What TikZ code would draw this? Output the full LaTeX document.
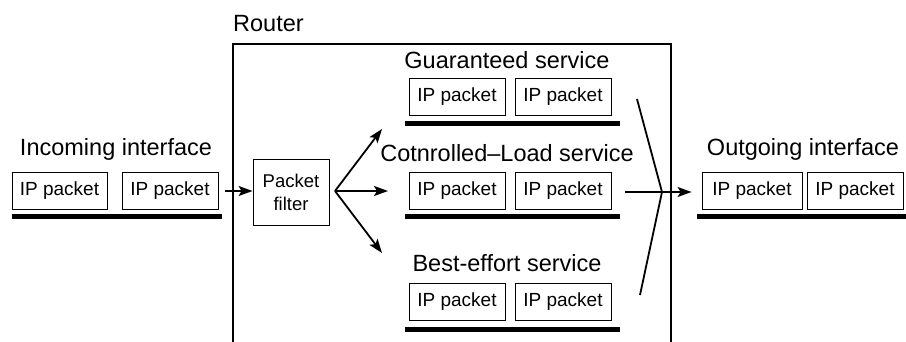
\documentclass[tikz,border=0pt]{standalone}
\usepackage{fontspec}
\setmainfont{Liberation Sans}
\usetikzlibrary{arrows.meta}
\begin{document}
\begin{tikzpicture}[x=1pt,y=-1pt,
  pkt/.style={draw, line width=0.8pt, minimum width=96pt, minimum height=37pt, inner sep=0pt,
    font=\fontsize{19}{19}\selectfont},
  head/.style={anchor=base, inner sep=0pt, font=\fontsize{23.5}{23.5}\selectfont},
  bar/.style={line width=5pt},
  arr/.style={line width=1.8pt, -{Stealth[length=14pt,width=10pt,inset=3pt]}},
  plain/.style={line width=1.8pt}
]
\useasboundingbox (0,0) rectangle (906,342);
% router box
\draw[line width=2.6pt] (233,342) -- (233,44) -- (671,44) -- (671,342);
\node[head, anchor=base west] (router) at (233,31.5) {Router};

% incoming
\node[head] (inc) at (116,156) {Incoming interface};
\node[pkt, minimum width=95pt] (i1) at (59.5,190.5) {IP packet};
\node[pkt] (i2) at (170,190.5) {IP packet};
\draw[bar] (12,217) -- (222,217);

% packet filter
\node[draw, line width=0.8pt, minimum width=76pt, minimum height=66pt, inner sep=0pt, align=center,
  font=\fontsize{18.5}{22.5}\selectfont] (pf) at (291,192.5) {Packet\\filter};
\coordinate (inarr) at (225,191);
\draw[arr] (inarr) -- (pf.west |- inarr);

% fan
\coordinate (fv) at (335,191);
\coordinate (fu) at (382,129);
\coordinate (fm) at (388,191);
\coordinate (fd) at (382,253);
\draw[arr] (fv) -- (fu);
\draw[arr] (fv) -- (fm);
\draw[arr] (fv) -- (fd);

% guaranteed
\node[head] (gs) at (507,68.3) {Guaranteed service};
\node[pkt] (g1) at (457,97) {IP packet};
\node[pkt] (g2) at (563,97) {IP packet};
\draw[bar] (405,124) -- (620,124);

% controlled load
\node[head] (cs) at (507,161.7) {Cotnrolled–Load service};
\node[pkt] (c1) at (457,190.5) {IP packet};
\node[pkt] (c2) at (563,190.5) {IP packet};
\draw[bar] (405,217) -- (620,217);

% best effort
\node[head] (bs) at (507,271.7) {Best-effort service};
\node[pkt] (b1) at (457,302) {IP packet};
\node[pkt] (b2) at (563,302) {IP packet};
\draw[bar] (405,329) -- (620,329);

% merge
\coordinate (mt) at (637,99);
\coordinate (mv) at (662,192);
\coordinate (mb) at (640,295);
\draw[plain] (mt) -- (mv) -- (mb);
\coordinate (ms) at (625,192);

% outgoing
\node[head] (outg) at (803,156) {Outgoing interface};
\node[pkt, minimum width=100pt] (o1) at (752,190.5) {IP packet};
\node[pkt] (o2) at (855,190.5) {IP packet};
\draw[bar] (697,217) -- (906,217);
\draw[arr] (ms) -- ([xshift=-10pt]o1.west |- ms);
\end{tikzpicture}
\end{document}
